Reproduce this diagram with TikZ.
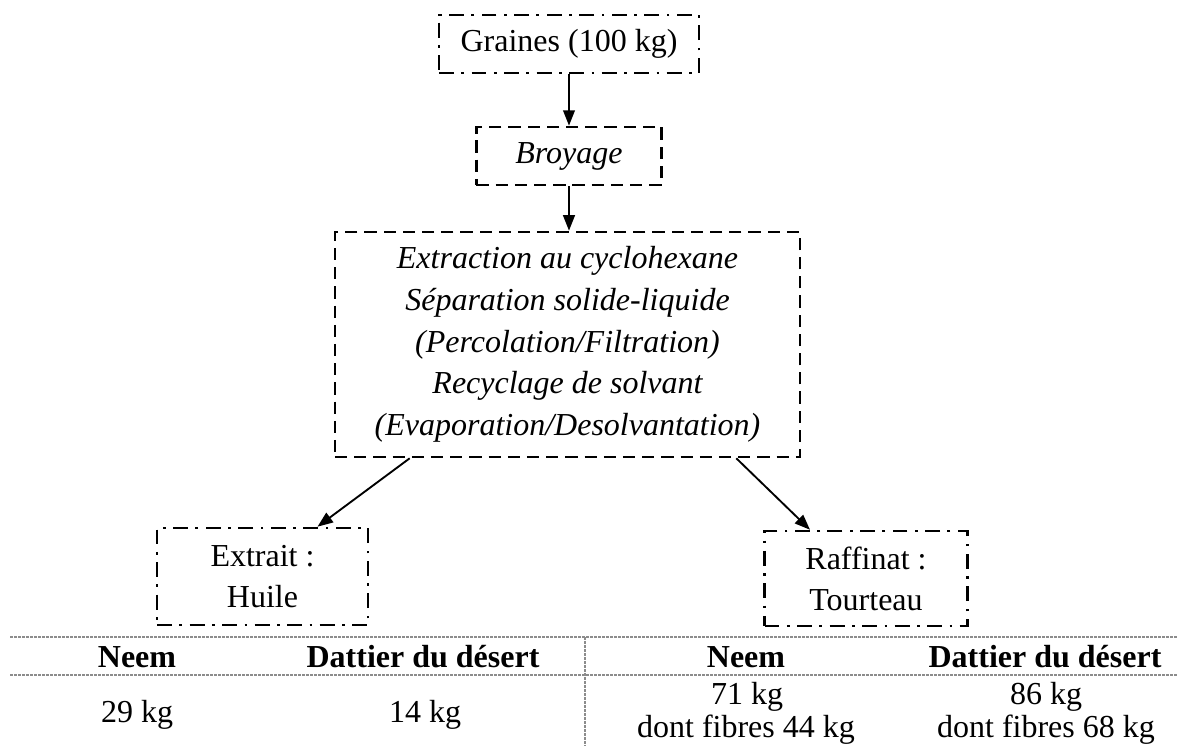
\documentclass[tikz,border=0pt]{standalone}
\usepackage{fontspec}
\setmainfont{Liberation Serif}
\usetikzlibrary{arrows.meta,calc,positioning}
\definecolor{RuleGray}{HTML}{8C8C8C}

\begin{document}
\begin{tikzpicture}[x=0.375pt,y=-0.375pt,every node/.style={font=\fontsize{12}{15.4}\selectfont,align=center,inner sep=0pt},dashbox/.style={draw,line width=0.95pt,dash pattern=on 4.6pt off 2.6pt},dotbox/.style={draw,line width=0.95pt,dash pattern=on 5.6pt off 2.8pt on 1pt off 2.8pt},arrow/.style={-{Triangle[length=5.8pt,width=4.4pt]},line width=0.7pt},tablerule/.style={draw=RuleGray,line width=0.75pt,dash pattern=on 1pt off 0.5pt}]
\useasboundingbox (0,0) rectangle (1177,746);

\node[dotbox,minimum width=97.5pt,minimum height=21.75pt] (gra) at (569,44) {Graines (100 kg)};
\node[dashbox,minimum width=69.4pt,minimum height=21.75pt] (bro) at (569,156) {\itshape Broyage};
\node[dashbox,minimum width=174.4pt,minimum height=84.4pt,font=\fontsize{12}{15.6}\selectfont\itshape] (ext) at (567.5,344.5) {Extraction au cyclohexane\\S\'eparation solide-liquide\\(Percolation/Filtration)\\Recyclage de solvant\\(Evaporation/Desolvantation)};
\node[dotbox,minimum width=79.1pt,minimum height=36.4pt] (oil) at (262.5,576.5) {Extrait :\\Huile};
\node[dotbox,minimum width=76.1pt,minimum height=35.6pt] (cake) at (866,578.5) {Raffinat :\\Tourteau};
\draw[arrow] (gra.south) -- (bro.north); \draw[arrow] (bro.south) -- (bro.south |- ext.north);
\draw[arrow] ($(ext.south west)+(76,0)$) -- ($(oil.north)+(55,0)$); \draw[arrow] ($(ext.south east)+(-65,0)$) -- ($(cake.north)+(-56,0)$);

% mass balance table
\draw[tablerule] (10,637) -- (1177,637); \draw[tablerule] (10,675) -- (1177,675); \draw[tablerule] (585,637) -- (585,746);
\node[anchor=base,font=\fontsize{12}{15.4}\selectfont\bfseries] (oilneem) at (137,668) {Neem};
\node[anchor=base,font=\fontsize{12}{15.4}\selectfont\bfseries] (oildate) at (423,668) {Dattier du d\'esert};
\node[anchor=base,font=\fontsize{12}{15.4}\selectfont\bfseries] (cakeneem) at (746,668) {Neem};
\node[anchor=base,font=\fontsize{12}{15.4}\selectfont\bfseries] (cakedate) at (1045,668) {Dattier du d\'esert};
\node[anchor=base] (oilneemv) at (137,723) {29 kg}; \node[anchor=base] (oildatev) at (425,723) {14 kg};
\node[anchor=base] (cakeneemv) at (747,705) {71 kg}; \node[anchor=base] (cakeneemf) at (746,738) {dont fibres 44 kg};
\node[anchor=base] (cakedatev) at (1046,705) {86 kg}; \node[anchor=base] (cakedatef) at (1046,738) {dont fibres 68 kg};

\end{tikzpicture}
\end{document}
